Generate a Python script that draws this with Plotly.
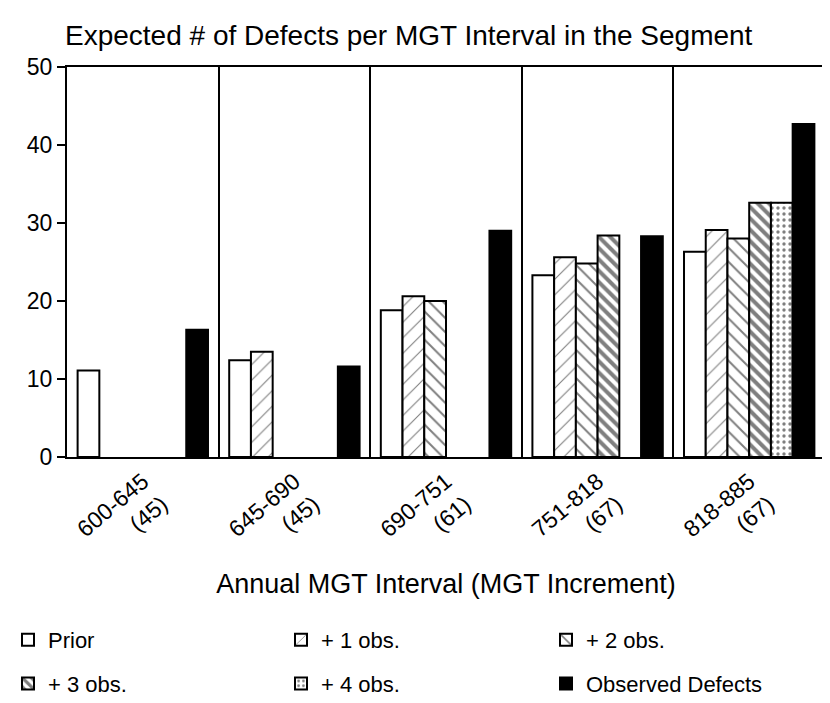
import plotly.graph_objects as go

categories = ["600-645<br>(45)", "645-690<br>(45)", "690-751<br>(61)", "751-818<br>(67)", "818-885<br>(67)"]
prior = [11.1, 12.4, 18.8, 23.3, 26.3]
obs1 = [None, 13.5, 20.6, 25.6, 29.1]
obs2 = [None, None, 20.0, 24.8, 28.0]
obs3 = [None, None, None, 28.4, 32.6]
obs4 = [None, None, None, None, 32.6]
observed = [16.3, 11.6, 29.0, 28.3, 42.7]
y_ticks = [0, 10, 20, 30, 40, 50]

# (name, values, pattern, legend column)
series = [
    ("Prior", prior, dict(shape="", fgcolor="black", bgcolor="white"), "legend"),
    ("+ 1 obs.", obs1, dict(shape="/", fgcolor="black", bgcolor="white", size=11, solidity=0.1), "legend2"),
    ("+ 2 obs.", obs2, dict(shape="\\", fgcolor="black", bgcolor="white", size=10, solidity=0.2), "legend3"),
    ("+ 3 obs.", obs3, dict(shape="\\", fgcolor="black", bgcolor="white", size=8, solidity=0.5), "legend"),
    ("+ 4 obs.", obs4, dict(shape=".", fgcolor="black", bgcolor="white", size=6, solidity=0.25), "legend2"),
    ("Observed Defects", observed, dict(shape="", fgcolor="black", bgcolor="black"), "legend3"),
]

fig = go.Figure()
for name, vals, pat, leg in series:
    color = "black" if name == "Observed Defects" else "white"
    fig.add_trace(go.Bar(
        x=categories, y=vals, name=name, legend=leg, legendgroup=name,
        marker=dict(color=color, line=dict(color="black", width=2), pattern=pat),
    ))

# page has an 8px body margin, so the figure is 8px smaller than the window
W, H = 822, 695
font = "Liberation Sans, Arial, sans-serif"
leg_common = dict(orientation="v", xanchor="left", xref="container",
                  yref="container", yanchor="top", y=1 - 611 / H,
                  font=dict(size=22), traceorder="grouped", tracegroupgap=12,
                  bgcolor="rgba(0,0,0,0)")
fig.update_layout(
    width=W, height=H,
    paper_bgcolor="white", plot_bgcolor="white",
    margin=dict(l=59, r=5, t=59, b=246, autoexpand=False),
    barmode="group", bargap=0.14, bargroupgap=0,
    font=dict(family=font, size=22, color="black"),
    title=dict(text="Expected # of Defects per MGT Interval in the Segment",
               x=57 / W, xanchor="left", y=1 - 27 / H, yanchor="middle",
               font=dict(size=28, color="black")),
    showlegend=True,
    legend=dict(x=0.0, **leg_common),
    legend2=dict(x=273 / W, **leg_common),
    legend3=dict(x=538 / W, **leg_common),
)
fig.update_xaxes(
    showline=True, linecolor="black", linewidth=2, mirror=True,
    showgrid=True, gridcolor="black", gridwidth=1.5, tickson="boundaries",
    ticks="", tickangle=-40, tickfont=dict(size=23),
    title=dict(text="Annual MGT Interval (MGT Increment)", font=dict(size=27), standoff=10),
)
fig.update_yaxes(
    range=[0, 50], tickvals=y_ticks, showline=True, linecolor="black", linewidth=2,
    mirror=True, showgrid=False, zeroline=False, ticks="outside", ticklen=8,
    tickwidth=2, tickcolor="black", tickfont=dict(size=23),
)
fig.write_html("out.html")
